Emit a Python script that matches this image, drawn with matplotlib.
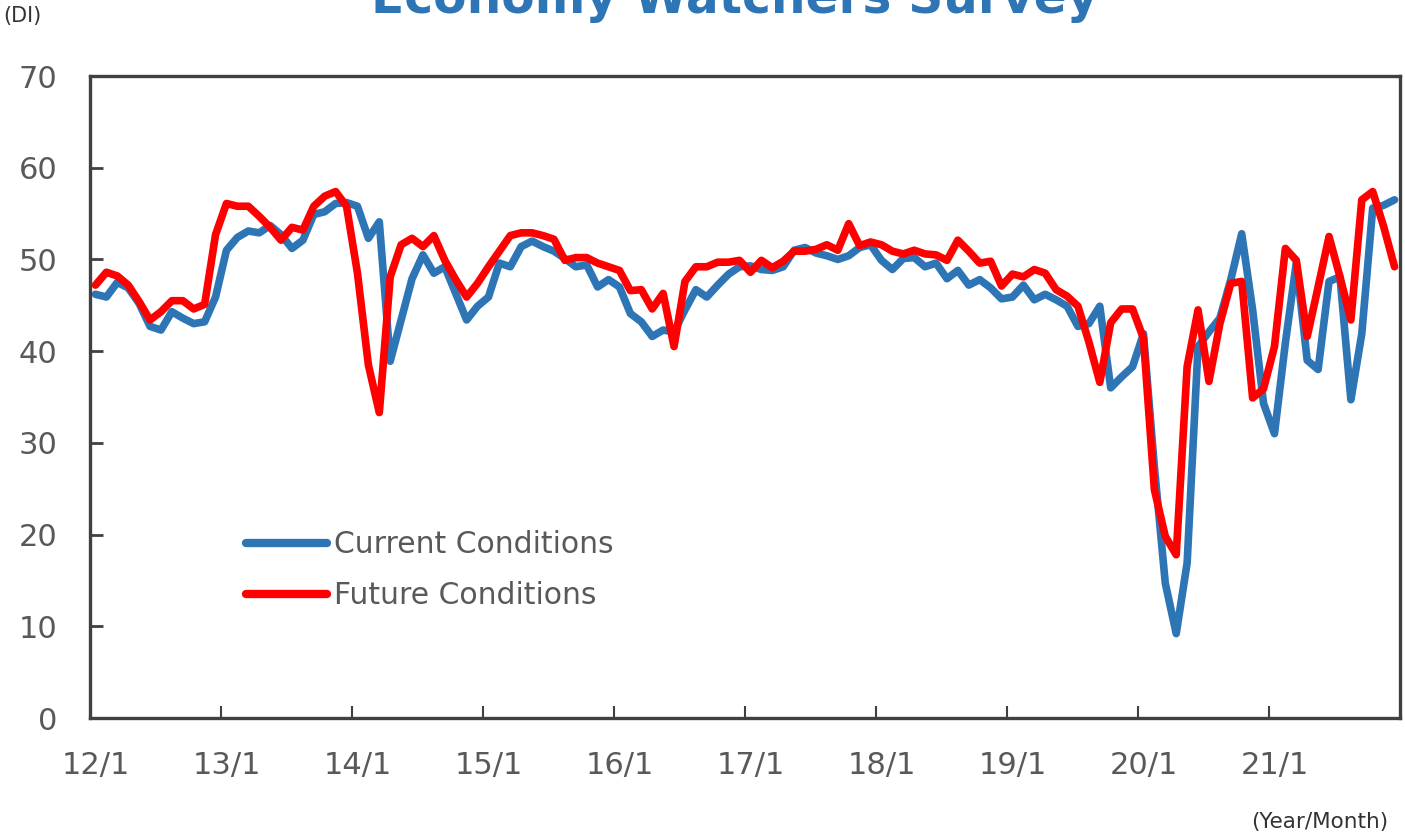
#!/usr/bin/env python3
# -*- coding: utf-8 -*-
"""Economy Watchers Survey: current vs future conditions DI, 2012/1 - 2021/12 (monthly)."""
import matplotlib
matplotlib.use('Agg')
import matplotlib.pyplot as plt
import numpy as np

# monthly values, 2012/1 .. 2021/12
current = [46.2, 45.9, 47.5, 46.9, 45.2, 42.7, 42.3, 44.3, 43.6, 43.0, 43.2, 45.9,
           51.0, 52.4, 53.1, 52.9, 53.7, 52.7, 51.2, 52.1, 54.9, 55.2, 56.1, 56.2,
           55.8, 52.3, 54.1, 38.9, 43.4, 47.9, 50.5, 48.5, 49.2, 46.3, 43.4, 44.9,
           45.9, 49.6, 49.2, 51.4, 52.0, 51.4, 50.9, 50.1, 49.2, 49.4, 47.0, 47.8,
           47.0, 44.1, 43.2, 41.6, 42.3, 42.1, 44.5, 46.7, 45.9, 47.2, 48.4, 49.2,
           49.3, 48.9, 48.8, 49.2, 51.0, 51.3, 50.7, 50.4, 50.0, 50.4, 51.3, 51.6,
           49.9, 48.9, 50.1, 50.2, 49.2, 49.6, 47.9, 48.8, 47.2, 47.8, 46.9, 45.7,
           45.9, 47.2, 45.6, 46.2, 45.6, 44.9, 42.7, 43.0, 44.9, 36.0, 37.2, 38.3,
           41.9, 27.4, 14.7, 9.2, 16.9, 40.5, 42.1, 43.6, 47.8, 52.8, 44.5, 34.3,
           31.0, 40.9, 49.6, 39.0, 38.0, 47.6, 48.1, 34.7, 41.9, 55.6, 55.9, 56.5]
future = [47.2, 48.6, 48.2, 47.2, 45.4, 43.4, 44.3, 45.5, 45.5, 44.6, 45.1, 52.7,
          56.1, 55.8, 55.8, 54.7, 53.5, 52.1, 53.5, 53.2, 55.8, 56.9, 57.4, 55.8,
          48.5, 38.5, 33.3, 48.1, 51.6, 52.3, 51.4, 52.6, 49.9, 47.8, 45.9, 47.4,
          49.2, 50.9, 52.6, 52.9, 52.9, 52.6, 52.2, 49.9, 50.2, 50.2, 49.6, 49.2,
          48.8, 46.6, 46.7, 44.6, 46.3, 40.5, 47.6, 49.2, 49.2, 49.7, 49.7, 49.9,
          48.6, 49.9, 49.1, 49.8, 50.9, 50.9, 51.1, 51.6, 51.0, 53.9, 51.5, 51.9,
          51.6, 50.9, 50.6, 51.0, 50.6, 50.5, 49.9, 52.1, 50.9, 49.6, 49.8, 47.1,
          48.4, 48.1, 48.9, 48.5, 46.7, 46.0, 44.9, 41.0, 36.6, 43.1, 44.6, 44.6,
          41.4, 24.9, 19.8, 17.8, 38.3, 44.5, 36.7, 43.0, 47.4, 47.6, 34.9, 35.9,
          40.5, 51.2, 49.9, 41.6, 47.0, 52.5, 48.1, 43.4, 56.5, 57.4, 53.6, 49.2]
years = ['12/1', '13/1', '14/1', '15/1', '16/1', '17/1', '18/1', '19/1', '20/1', '21/1']
yticks = [0, 10, 20, 30, 40, 50, 60, 70]

BLUE = '#2E75B6'
RED = '#FF0000'
GREY = '#595959'
AXC = '#404040'

plt.rcParams['font.family'] = ['DejaVu Sans']

fig = plt.figure(figsize=(14.05, 8.33), dpi=100)
ax = fig.add_axes([90 / 1405, 1 - 718 / 833, 1310 / 1405, 642 / 833])

x = np.arange(len(current))
ax.plot(x, current, color=BLUE, lw=5.5, solid_joinstyle='round', solid_capstyle='round',
        label='Current Conditions')
ax.plot(x, future, color=RED, lw=5.5, solid_joinstyle='round', solid_capstyle='round',
        label='Future Conditions')

ax.set_xlim(-0.5, len(current) - 0.5)
ax.set_ylim(0, 70)

# year labels centred on January, tick marks on the year boundaries
ax.set_xticks(np.arange(len(years)) * 12)
ax.set_xticklabels(years)
ax.set_xticks(np.arange(1, len(years)) * 12 - 0.5, minor=True)
ax.tick_params(axis='x', which='major', length=0, pad=24, labelsize=22, labelcolor=GREY)
ax.tick_params(axis='x', which='minor', direction='in', length=9, width=1.5, color=AXC)
ax.set_yticks(yticks)
ax.tick_params(axis='y', direction='in', length=9, width=2, color=AXC,
               pad=23.5, labelsize=22, labelcolor=GREY)

for s in ax.spines.values():
    s.set_color(AXC)
    s.set_linewidth(2.4)

leg = ax.legend(loc='upper left', bbox_to_anchor=(246 / 1405, 1 - 530 / 833),
                bbox_transform=fig.transFigure, frameon=False, fontsize=21.5,
                handlelength=2.7, handletextpad=0.25, labelspacing=0.75,
                borderpad=0, borderaxespad=0)
for t in leg.get_texts():
    t.set_color(GREY)
for h in leg.get_lines():
    h.set_linewidth(6)

fig.text(0.523, 1 - 13 / 833, 'Economy Watchers Survey', ha='center', va='baseline',
         fontsize=35, fontweight='bold', color=BLUE)
fig.text(3 / 1405, 1 - 22 / 833, '(DI)', ha='left', va='baseline', fontsize=15, color='#333333')
fig.text(1388 / 1405, 1 - 828 / 833, '(Year/Month)', ha='right', va='baseline',
         fontsize=15.5, color='#333333')

fig.savefig('out.png', dpi=100)
plt.close(fig)
